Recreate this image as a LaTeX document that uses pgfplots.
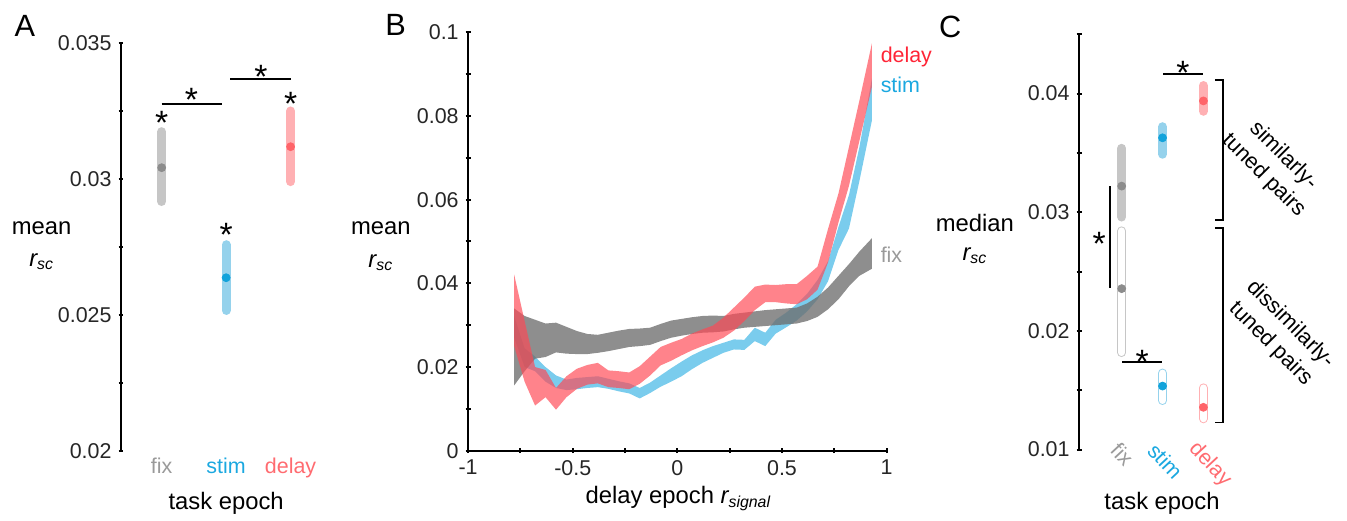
\documentclass[border=0pt]{standalone}
\usepackage{fontspec}
\setmainfont{Liberation Sans}
\usepackage{pgfplots}
\pgfplotsset{compat=1.18}
\usepackage{pgfplotstable}
\usepgfplotslibrary{fillbetween}

\definecolor{fixdot}{HTML}{8C8C8C}
\definecolor{fixbar}{HTML}{C6C6C6}
\definecolor{fixtxt}{HTML}{9A9A9A}
\definecolor{stimdot}{HTML}{12A3DB}
\definecolor{stimbar}{HTML}{95D2EC}
\definecolor{stimtxt}{HTML}{1BA8E0}
\definecolor{delaydot}{HTML}{FF6469}
\definecolor{delaybar}{HTML}{FFB0B3}
\definecolor{delaytxt}{HTML}{FF6B70}
\definecolor{bandgray}{HTML}{6E6E6E}
\definecolor{bandblue}{HTML}{41B7E5}
\definecolor{bandred}{HTML}{FF4854}
\definecolor{delayB}{HTML}{FF2436}

\pgfplotsset{
  panel/.style={scale only axis, enlargelimits=false, clip=false,
    axis line style={-, line width=1pt},
    every outer x axis line/.append style={-},
    every outer y axis line/.append style={-},
    tick style={line width=1pt, black},
    major tick length=2.5pt, minor tick length=2.5pt, tick align=outside,
    scaled ticks=false,
    ticklabel style={font=\fontsize{10.8}{12}\selectfont, text=black!85}},
  cat/.style={panel, axis x line=none, axis y line=left, xtick=\empty,
    y axis line style={-}},
}
\tikzset{
  ci/.style={line width=4.6pt, line cap=round, color=#1},
  dot/.style={only marks, mark=*, mark size=2pt, color=#1},
  sig/.style={black, line width=1pt},
  star/.style={font=\fontsize{17}{17}\selectfont, inner sep=0pt, anchor=north, yshift=2.4pt},
  lab/.style={font=\fontsize{12}{14}\selectfont},
  catlab/.style={font=\fontsize{10.8}{12}\selectfont},
}
\newcommand{\rsc}{{\itshape r\textsubscript{sc}}}

% delay epoch r_signal bins: x, lower edge, upper edge
\pgfplotstableread{
x lo hi
-0.78 0.0156 0.0340
-0.73 0.0190 0.0322
-0.68 0.0220 0.0313
-0.63 0.0224 0.0304
-0.58 0.0235 0.0306
-0.53 0.0232 0.0296
-0.48 0.0231 0.0286
-0.43 0.0231 0.0279
-0.38 0.0234 0.0277
-0.33 0.0238 0.0282
-0.28 0.0243 0.0287
-0.23 0.0248 0.0291
-0.18 0.0250 0.0292
-0.13 0.0253 0.0294
-0.08 0.0262 0.0303
-0.03 0.0270 0.0311
0.02 0.0275 0.0315
0.07 0.0279 0.0319
0.12 0.0282 0.0322
0.17 0.0283 0.0323
0.22 0.0285 0.0322
0.27 0.0290 0.0327
0.32 0.0294 0.0330
0.37 0.0296 0.0333
0.42 0.0298 0.0336
0.47 0.0300 0.0338
0.52 0.0302 0.0340
0.57 0.0304 0.0342
0.62 0.0310 0.0352
0.67 0.0320 0.0368
0.72 0.0338 0.0390
0.77 0.0362 0.0418
0.82 0.0393 0.0446
0.87 0.0418 0.0476
0.93 0.0435 0.0508
}\fixband

\pgfplotstableread{
x lo hi
-0.78 0.0270 0.0322
-0.73 0.0200 0.0245
-0.68 0.0190 0.0225
-0.63 0.0165 0.0200
-0.58 0.0150 0.0180
-0.53 0.0145 0.0170
-0.48 0.0147 0.0174
-0.43 0.0150 0.0176
-0.38 0.0152 0.0178
-0.33 0.0148 0.0172
-0.28 0.0142 0.0166
-0.23 0.0137 0.0161
-0.18 0.0125 0.0150
-0.13 0.0138 0.0163
-0.08 0.0153 0.0180
-0.03 0.0165 0.0197
0.02 0.0178 0.0213
0.07 0.0195 0.0228
0.12 0.0210 0.0240
0.17 0.0222 0.0250
0.22 0.0234 0.0258
0.27 0.0242 0.0266
0.32 0.0241 0.0265
0.37 0.0262 0.0294
0.42 0.0250 0.0282
0.47 0.0280 0.0313
0.52 0.0295 0.0330
0.57 0.0311 0.0350
0.62 0.0333 0.0375
0.67 0.0362 0.0408
0.72 0.0405 0.0453
0.77 0.0480 0.0535
0.82 0.0531 0.0611
0.87 0.0645 0.0726
0.93 0.0790 0.0890
}\stimband

\pgfplotstableread{
x lo hi
-0.78 0.0250 0.0421
-0.73 0.0165 0.0310
-0.68 0.0108 0.0200
-0.63 0.0128 0.0193
-0.58 0.0098 0.0150
-0.53 0.0128 0.0178
-0.48 0.0148 0.0196
-0.43 0.0158 0.0205
-0.38 0.0161 0.0210
-0.33 0.0152 0.0192
-0.28 0.0150 0.0190
-0.23 0.0147 0.0187
-0.18 0.0160 0.0202
-0.13 0.0180 0.0225
-0.08 0.0204 0.0248
-0.03 0.0215 0.0258
0.02 0.0228 0.0267
0.07 0.0240 0.0280
0.12 0.0250 0.0290
0.17 0.0259 0.0299
0.22 0.0270 0.0318
0.27 0.0287 0.0342
0.32 0.0310 0.0366
0.37 0.0336 0.0392
0.42 0.0355 0.0397
0.47 0.0355 0.0396
0.52 0.0352 0.0398
0.57 0.0350 0.0398
0.62 0.0362 0.0418
0.67 0.0385 0.0440
0.72 0.0450 0.0530
0.77 0.0546 0.0615
0.82 0.0633 0.0726
0.87 0.0741 0.0837
0.93 0.0870 0.0974
}\delayband

\begin{document}
\begin{tikzpicture}
\path (0,0) rectangle (673.5pt,260.5pt);

% ---------- A ----------
\begin{axis}[cat, at={(61pt,33pt)}, anchor=south west,
  width=101.75pt, height=206pt,
  xmin=0.369, xmax=3.5, ymin=0.02, ymax=0.035,
  ytick={0.02,0.025,0.03,0.035}, yticklabels={0.02,0.025,0.03,0.035},
  minor ytick={0.0225,0.0275,0.0325}]
\addplot[ci=fixbar] coordinates {(1,0.02917) (1,0.03173)};
\addplot[ci=stimbar] coordinates {(2,0.02517) (2,0.02758)};
\addplot[ci=delaybar] coordinates {(3,0.02990) (3,0.03249)};
\addplot[dot=fixdot] coordinates {(1,0.03041)};
\addplot[dot=stimdot] coordinates {(2,0.02637)};
\addplot[dot=delaydot] coordinates {(3,0.03118)};
\addplot[sig] coordinates {(1,0.032743) (1.938,0.032743)};
\addplot[sig] coordinates {(2.062,0.033653) (3,0.033653)};
\node[star] at (axis cs:1,0.032306) {*};
\node[star] at (axis cs:2,0.028191) {*};
\node[star] at (axis cs:3,0.033034) {*};
\node[star] at (axis cs:1.4615,0.033180) {*};
\node[star] at (axis cs:2.538,0.034017) {*};
\end{axis}

% ---------- B ----------
\begin{axis}[panel, at={(236pt,33.25pt)}, anchor=south west,
  width=211pt, height=211pt, axis lines=left,
  x axis line style={-}, y axis line style={-},
  xmin=-1, xmax=1, ymin=0, ymax=0.1,
  xtick={-1,-0.5,0,0.5,1}, xticklabels={-1,-0.5,0,0.5,1},
  minor xtick={-0.75,-0.25,0.25,0.75},
  ytick={0,0.02,0.04,0.06,0.08,0.1}, yticklabels={0,0.02,0.04,0.06,0.08,0.1},
  minor ytick={0.01,0.03,0.05,0.07,0.09}]
\addplot[name path=shi, draw=none] table[x=x,y=hi]{\stimband};
\addplot[name path=slo, draw=none] table[x=x,y=lo]{\stimband};
\addplot[fill=bandblue, fill opacity=0.7, draw=none] fill between[of=shi and slo];
\addplot[name path=fhi, draw=none] table[x=x,y=hi]{\fixband};
\addplot[name path=flo, draw=none] table[x=x,y=lo]{\fixband};
\addplot[fill=bandgray, fill opacity=0.78, draw=none] fill between[of=fhi and flo];
\addplot[name path=dhi, draw=none] table[x=x,y=hi]{\delayband};
\addplot[name path=dlo, draw=none] table[x=x,y=lo]{\delayband};
\addplot[fill=bandred, fill opacity=0.68, draw=none] fill between[of=dhi and dlo];
\end{axis}

% ---------- C ----------
\begin{axis}[cat, at={(544pt,33.85pt)}, anchor=south west,
  width=73pt, height=209.4pt,
  xmin=-0.0437, xmax=3.5, ymin=0.01, ymax=0.045,
  ytick={0.01,0.02,0.03,0.04}, yticklabels={0.01,0.02,0.03,0.04},
  minor ytick={0.015,0.025,0.035,0.045}]
% similarly-tuned pairs
\addplot[ci=fixbar] coordinates {(1,0.02960) (1,0.03538)};
\addplot[ci=stimbar] coordinates {(2,0.03489) (2,0.03720)};
\addplot[ci=delaybar] coordinates {(3,0.03851) (3,0.04067)};
% dissimilarly-tuned pairs (open)
\addplot[ci=fixbar] coordinates {(1,0.01818) (1,0.02842)};
\addplot[ci=stimbar] coordinates {(2,0.01414) (2,0.01644)};
\addplot[ci=delaybar] coordinates {(3,0.01260) (3,0.01519)};
\addplot[ci=white, line width=3.6pt] coordinates {(1,0.01818) (1,0.02842)};
\addplot[ci=white, line width=3.6pt] coordinates {(2,0.01414) (2,0.01644)};
\addplot[ci=white, line width=3.6pt] coordinates {(3,0.01260) (3,0.01519)};
\addplot[dot=fixdot] coordinates {(1,0.03220) (1,0.02356)};
\addplot[dot=stimdot] coordinates {(2,0.03627) (2,0.01535)};
\addplot[dot=delaydot] coordinates {(3,0.03938) (3,0.01356)};
\addplot[sig] coordinates {(2.012,0.04167) (3,0.04167)};
\addplot[sig] coordinates {(0.709,0.03220) (0.709,0.02359)};
\addplot[sig] coordinates {(1.017,0.01738) (1.988,0.01738)};
\node[star] at (axis cs:2.4976,0.04231) {*};
\node[star] at (axis cs:0.449,0.02797) {*};
\node[star] at (axis cs:1.502,0.01799) {*};
\addplot[sig] coordinates {(3.28,0.04114) (3.483,0.04114) (3.483,0.02935) (3.28,0.02935)};
\addplot[sig] coordinates {(3.28,0.02866) (3.483,0.02866) (3.483,0.01228) (3.28,0.01228)};
\end{axis}

\begin{scope}[x=0.5pt,y=0.5pt]
\node[font=\fontsize{15.5}{16}\selectfont] at (25,495) {A};
\node[font=\fontsize{15.5}{16}\selectfont] at (399,496) {B};
\node[font=\fontsize{15.5}{16}\selectfont] at (958,494) {C};
% A labels
\node[lab] at (42,291) {mean};
\node[lab] at (42,257) {\rsc};
\node[catlab, anchor=base, text=fixtxt] at (163,44) {fix};
\node[catlab, anchor=base, text=stimtxt] at (228,44) {stim};
\node[catlab, anchor=base, text=delaytxt] at (293,44) {delay};
\node[lab, anchor=base] at (228,7.5) {task epoch};
% B labels
\node[lab] at (384,291) {mean};
\node[lab] at (384,256) {\rsc};
\node[lab, anchor=base] at (684,13) {delay epoch {\itshape r\textsubscript{signal}}};
\node[catlab, anchor=base west, text=delayB] at (881,458) {delay};
\node[catlab, anchor=base west, text=stimtxt] at (881,428) {stim};
\node[catlab, anchor=base west, text=fixtxt] at (881,256) {fix};
% C labels
\node[lab] at (983,296) {median};
\node[lab] at (983,263) {\rsc};
\node[catlab, rotate=-47, text=fixtxt] at (1131.7,62.7) {fix};
\node[catlab, rotate=-47, text=stimtxt] at (1175,56) {stim};
\node[catlab, rotate=-47, text=delaytxt] at (1220,52.7) {delay};
\node[lab, anchor=base] at (1171.7,7.5) {task epoch};
\node[font=\fontsize{11}{14}\selectfont, align=center, rotate=-45] at (1284,354) {similarly-\\tuned pairs};
\node[font=\fontsize{11}{14}\selectfont, align=center, rotate=-45] at (1291,184) {dissimilarly-\\tuned pairs};
\end{scope}
\end{tikzpicture}
\end{document}
